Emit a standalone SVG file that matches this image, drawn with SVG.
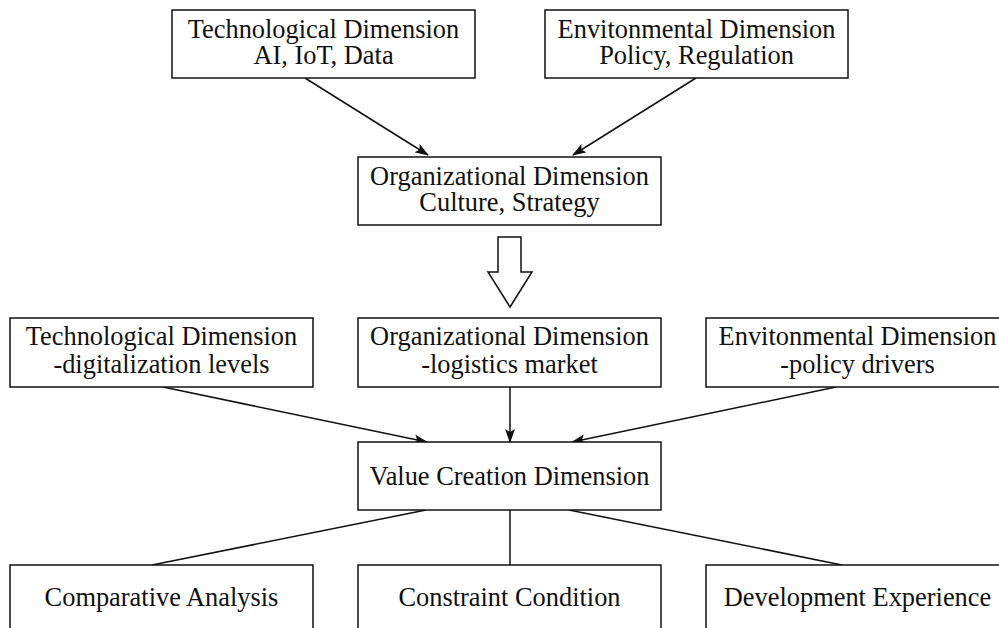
<svg xmlns="http://www.w3.org/2000/svg" width="999" height="628" viewBox="0 0 999 628">
<style>
.box{fill:#fff;stroke:#111;stroke-width:1.5}
.t{font-family:"Liberation Serif","Times New Roman",serif;font-size:26.4px;fill:#111;text-anchor:middle}
.c{stroke:#111;stroke-width:1.5;fill:none}
</style>
<defs>
<marker id="ah" markerWidth="14" markerHeight="10" refX="13" refY="5" orient="auto" markerUnits="userSpaceOnUse">
<path d="M0,0 L14,5 L0,10 L3,5 Z" fill="#111"/>
</marker>
</defs>
<rect width="999" height="628" fill="#fff"/>
<g id="connectors">
<line class="c" x1="305" y1="78" x2="428" y2="155" marker-end="url(#ah)"/>
<line class="c" x1="696" y1="78" x2="573" y2="155" marker-end="url(#ah)"/>
<polygon class="c" points="498,237 521,237 521,272 532,272 510,307 488,272 498,272" style="fill:#fff"/>
<line class="c" x1="163" y1="387" x2="427" y2="442" marker-end="url(#ah)"/>
<line class="c" x1="510" y1="387" x2="510" y2="442" marker-end="url(#ah)"/>
<line class="c" x1="836" y1="387" x2="572" y2="442" marker-end="url(#ah)"/>
<line class="c" x1="426" y1="510" x2="152" y2="565"/>
<line class="c" x1="510" y1="510" x2="510" y2="565"/>
<line class="c" x1="569" y1="510" x2="842" y2="565"/>
</g>
<g id="tech-top"><rect class="box" x="172" y="10" width="303" height="68"/><text class="t" x="323.5" y="38">Technological Dimension</text><text class="t" x="323.5" y="64">AI, IoT, Data</text></g>
<g id="env-top"><rect class="box" x="545" y="10" width="303" height="68"/><text class="t" x="696.5" y="38">Envitonmental Dimension</text><text class="t" x="696.5" y="64">Policy, Regulation</text></g>
<g id="org-top"><rect class="box" x="358" y="157" width="303" height="68"/><text class="t" x="509.5" y="185">Organizational Dimension</text><text class="t" x="509.5" y="211">Culture, Strategy</text></g>
<g id="tech-mid"><rect class="box" x="10" y="318" width="303" height="69"/><text class="t" x="161.5" y="345">Technological Dimension</text><text class="t" x="161.5" y="373">-digitalization levels</text></g>
<g id="org-mid"><rect class="box" x="358" y="318" width="303" height="69"/><text class="t" x="509.5" y="345">Organizational Dimension</text><text class="t" x="509.5" y="373">-logistics market</text></g>
<g id="env-mid"><rect class="box" x="706" y="318" width="303" height="69"/><text class="t" x="857.5" y="345">Envitonmental Dimension</text><text class="t" x="857.5" y="373">-policy drivers</text></g>
<g id="value"><rect class="box" x="358" y="442" width="303" height="68"/><text class="t" x="509.5" y="485">Value Creation Dimension</text></g>
<g id="comparative"><rect class="box" x="10" y="565" width="303" height="80"/><text class="t" x="161.5" y="606">Comparative Analysis</text></g>
<g id="constraint"><rect class="box" x="358" y="565" width="303" height="80"/><text class="t" x="509.5" y="606">Constraint Condition</text></g>
<g id="development"><rect class="box" x="706" y="565" width="303" height="80"/><text class="t" x="857.5" y="606">Development Experience</text></g>
</svg>
